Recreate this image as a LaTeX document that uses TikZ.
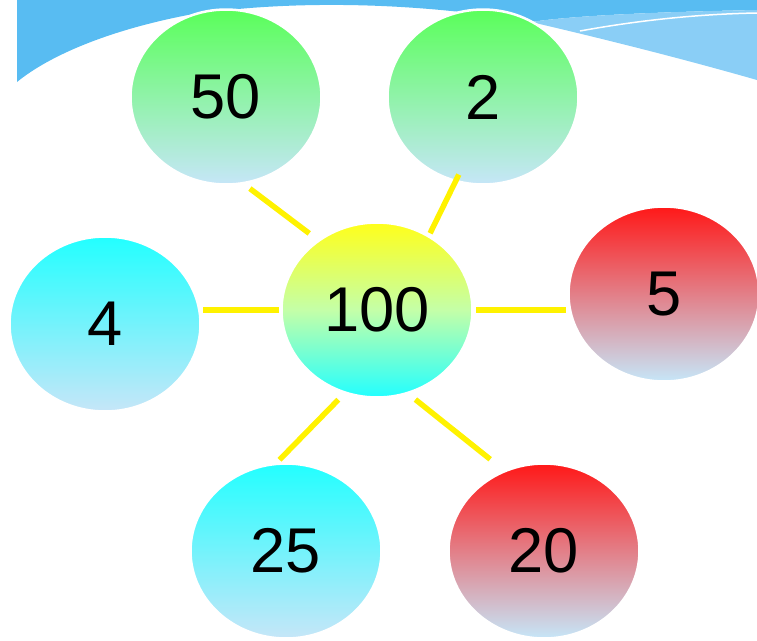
\documentclass[tikz,border=0pt]{standalone}
\usepackage{fontspec}
\setmainfont{Liberation Sans}
\usetikzlibrary{shapes.geometric}

\definecolor{band}{RGB}{88,188,242}
\definecolor{bandlight}{RGB}{138,206,246}
\definecolor{pale}{RGB}{198,230,248}
\definecolor{grn}{RGB}{90,255,90}
\definecolor{aqua}{RGB}{34,255,255}
\definecolor{rd}{RGB}{255,24,24}
\definecolor{ylw}{RGB}{255,255,26}
\definecolor{lime}{RGB}{196,255,168}
\definecolor{spoke}{RGB}{255,242,0}

\tikzset{
  bubble/.style={ellipse, minimum width=3.82cm, minimum height=3.5cm, inner sep=0pt, outer sep=0pt,
    draw=white, line width=0.05cm, bottom color=pale, font=\fontsize{36}{36}\selectfont},
  spokeline/.style={spoke, line width=0.11cm}
}

\begin{document}
\begin{tikzpicture}[x=0.02cm, y=-0.02cm]
      \useasboundingbox (0,0) rectangle (757,640);
      \fill[band] (17,0) -- (757,0) -- (757,10) .. controls (650,12) and (570,16) .. (531,22)
        .. controls (430,4) and (300,-2) .. (188,15) .. controls (110,30) and (50,55) .. (17,82) -- cycle;
      \fill[bandlight] (531,22) .. controls (570,16) and (650,12) .. (757,10) -- (757,80)
        .. controls (680,58) and (600,38) .. (531,22) -- cycle;
      \draw[white, line width=0.03cm] (580,31) .. controls (640,20) and (700,14) .. (757,13);

      \node[bubble, top color=grn] (c50) at (226,97) {50};
      \node[bubble, top color=grn] (c2) at (483,97) {2};
      \node[bubble, top color=aqua] (c4) at (105,324) {4};
      \node[bubble, top color=ylw, bottom color=aqua, middle color=lime] (c100) at (377,310) {100};
      \node[bubble, top color=rd] (c5) at (664,294) {5};
      \node[bubble, top color=aqua] (c25) at (286,551) {25};
      \node[bubble, top color=rd] (c20) at (544,551) {20};

      \draw[spokeline, shorten <=0.24cm, shorten >=0.18cm] (c100.130) -- (c50.281);
      \draw[spokeline, shorten <=0.07cm, shorten >=-0.14cm] (c100.55) -- (c2.252);
      \draw[spokeline, shorten <=0.06cm, shorten >=0.06cm] (c100.west) -- (c100.west -| c4.east);
      \draw[spokeline, shorten <=0.08cm, shorten >=0.06cm] (c100.east) -- (c100.east -| c5.west);
      \draw[spokeline, shorten <=0.2cm, shorten >=0.12cm] (c100.249) -- (c25.97);
      \draw[spokeline, shorten <=0.21cm, shorten >=0.38cm] (c100.290) -- (c20.116);
    \end{tikzpicture}
\end{document}
